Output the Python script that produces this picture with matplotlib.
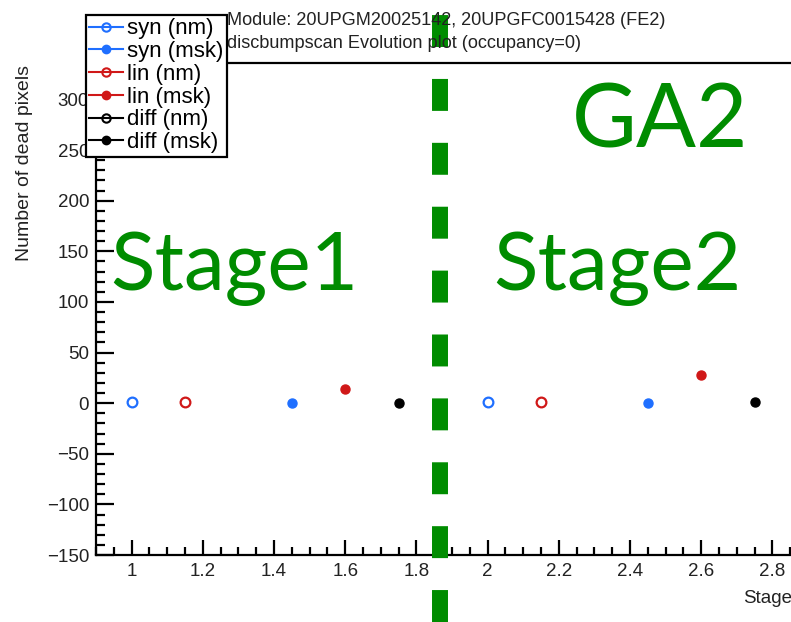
import numpy as np
import matplotlib
matplotlib.use("Agg")
import matplotlib.pyplot as plt

# values (x = stage position of each point)
syn_nm_x = [1.00, 2.00]
syn_nm = [1, 1]
syn_msk_x = [1.45, 2.45]
syn_msk = [0, 0]
lin_nm_x = [1.15, 2.15]
lin_nm = [1, 1]
lin_msk_x = [1.60, 2.60]
lin_msk = [14, 28]
diff_nm_x = [1.30, 2.30]
diff_nm = [np.nan, np.nan]  # not visible in the picture
diff_msk_x = [1.75, 2.75]
diff_msk = [0, 1]

stage_split = 1.865
title_lines = [
    "Module: 20UPGM20025142, 20UPGFC0015428 (FE2)",
    "discbumpscan Evolution plot (occupancy=0)",
]

plt.rcParams["font.family"] = ["Liberation Sans", "DejaVu Sans"]

W, H = 791, 622
fig = plt.figure(figsize=(W / 100, H / 100), dpi=100)
ax_left, ax_bottom, ax_top = 96, 555, 63
x_min, x_max = 0.9, 2.95
px_per_unit = 356
ax_w = (x_max - x_min) * px_per_unit
ax = fig.add_axes([ax_left / W, 1 - ax_bottom / H, ax_w / W, (ax_bottom - ax_top) / H])

blue = "#1f6fff"
red = "#d01818"
green = "#008c00"

series = [
    (syn_nm_x, syn_nm, blue, False, "syn (nm)"),
    (syn_msk_x, syn_msk, blue, True, "syn (msk)"),
    (lin_nm_x, lin_nm, red, False, "lin (nm)"),
    (lin_msk_x, lin_msk, red, True, "lin (msk)"),
    (diff_nm_x, diff_nm, "black", False, "diff (nm)"),
    (diff_msk_x, diff_msk, "black", True, "diff (msk)"),
]

handles = []
for xs, ys, col, filled, label in series:
    if filled:
        ax.plot(xs, ys, "o", color=col, ms=6.5, mec=col, mfc=col, zorder=3)
    else:
        ax.plot(xs, ys, "o", color=col, ms=7, mec=col, mfc="white", mew=1.6, zorder=3)
    h, = plt.plot([], [], "-o", color=col, lw=1.5, ms=5.5 if filled else 6,
                  mfc=col if filled else "none", mec=col, mew=1.5, label=label)
    handles.append(h)

ax.set_xlim(x_min, x_max)
ax.set_ylim(-150, 336)
ax.set_xticks(np.arange(1.0, 2.81, 0.2))
ax.set_xticklabels(["1", "1.2", "1.4", "1.6", "1.8", "2", "2.2", "2.4", "2.6", "2.8"])
ax.set_xticks(np.arange(0.9, 2.95, 0.05), minor=True)
ax.set_yticks(np.arange(-150, 301, 50))
ax.set_yticks(np.arange(-150, 331, 10), minor=True)

ax.tick_params(axis="both", which="both", direction="in", width=1.6, colors="black",
               labelcolor="#222222", labelsize=13.5)
ax.tick_params(axis="y", which="major", length=13, pad=5)
ax.tick_params(axis="y", which="minor", length=6.5)
ax.tick_params(axis="x", which="major", length=11, pad=6)
ax.tick_params(axis="x", which="minor", length=5.5)
for side in ["left", "bottom", "top"]:
    ax.spines[side].set_linewidth(1.6)
ax.spines["right"].set_visible(False)

# axis titles in ROOT style
fig.text(25 / W, 1 - 65 / H, "Number of dead pixels", rotation=90, ha="center", va="top",
         fontsize=14, color="#222222")
fig.text(743 / W, 1 - 603 / H, "Stage", ha="left", va="baseline", fontsize=13.5, color="#222222")

# title pave
fig.text(227 / W, 1 - 25 / H, title_lines[0], ha="left", va="baseline", fontsize=13.1, color="#222222")
fig.text(227 / W, 1 - 48 / H, title_lines[1], ha="left", va="baseline", fontsize=13.1, color="#222222")

# stage divider
ymin_frac = (ax_bottom - H) / (ax_bottom - ax_top)
ymax_frac = (ax_bottom - 13) / (ax_bottom - ax_top)
ax.axvline(stage_split, ymin=ymin_frac, ymax=ymax_frac, color=green, lw=11.5,
           linestyle=(0, (2, 2)), solid_capstyle="butt", dash_capstyle="butt",
           clip_on=False, zorder=10)

# annotations
big = dict(color=green, family=["Lato", "DejaVu Sans"], va="baseline", ha="left")
fig.text(110 / W, 1 - 290 / H, "Stage1", fontsize=59, **big)
fig.text(493 / W, 1 - 290 / H, "Stage2", fontsize=59, **big)
fig.text(572 / W, 1 - 147 / H, "GA2", fontsize=64, **big)

leg = fig.legend(handles=handles, loc="upper left", bbox_to_anchor=(86 / W, 1 - 15 / H),
                 fontsize=16, frameon=True, fancybox=False, edgecolor="black",
                 borderpad=0.15, labelspacing=0.08, handlelength=1.5, handletextpad=0.2,
                 borderaxespad=0, framealpha=1)
leg.get_frame().set_linewidth(1.6)
leg.set_zorder(20)

fig.savefig("out.png", dpi=100)
